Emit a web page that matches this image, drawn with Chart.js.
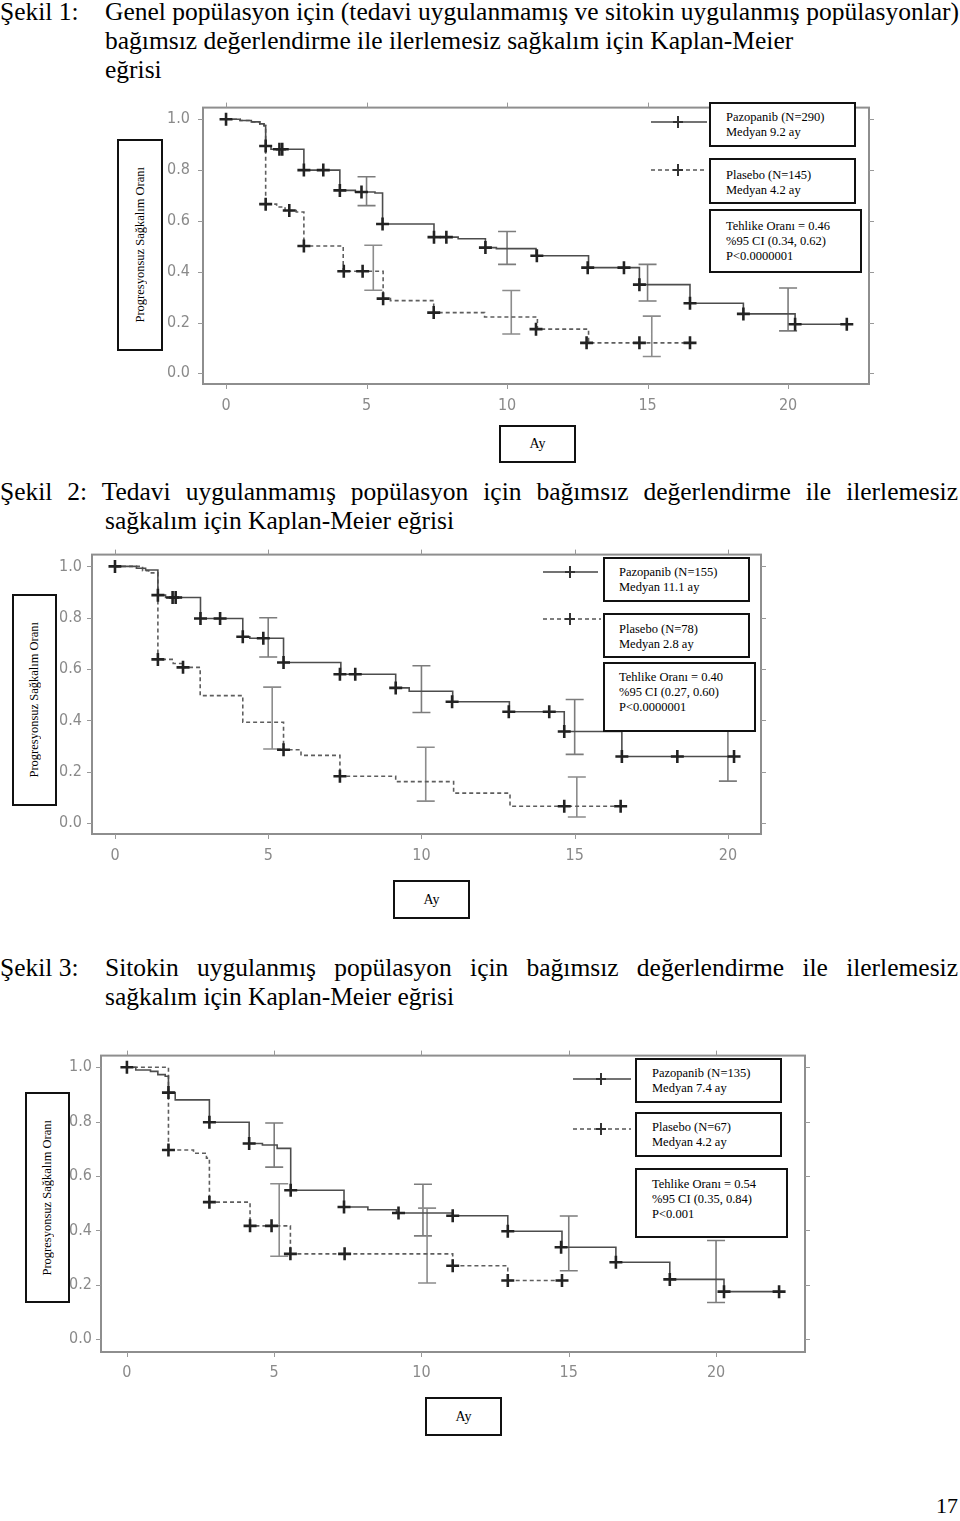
<!DOCTYPE html>
<html>
<head>
<meta charset="utf-8">
<script src="https://cdn.jsdelivr.net/npm/chart.js@4.4.1/dist/chart.umd.min.js"></script>
<style>
html, body { margin: 0; padding: 0; background: #fff; }
#page { position: relative; width: 960px; height: 1521px; overflow: hidden; font-family: "Liberation Serif", "Times New Roman", serif; color: #000; }
.cap { position: absolute; font-size: 25.5px; line-height: 29px; white-space: nowrap; }
.just { text-align: justify; text-align-last: justify; }
canvas { position: absolute; }
.box { position: absolute; box-sizing: border-box; border: 2px solid #111; background: #fff; font-size: 12.5px; line-height: 15px; padding: 6px 0 0 15px; z-index: 2; white-space: nowrap; }
.ylab { position: absolute; box-sizing: border-box; border: 2px solid #111; background: #fff; z-index: 2; display: flex; align-items: center; justify-content: center; }
.ylab span { writing-mode: vertical-rl; transform: rotate(180deg); font-size: 12.5px; white-space: nowrap; }
.xlab { position: absolute; box-sizing: border-box; border: 2px solid #111; background: #fff; display: flex; align-items: center; justify-content: center; font-size: 14px; }
svg.key { position: absolute; z-index: 1; overflow: visible; }
</style>
</head>
<body>
<div id="page">

  <!-- Şekil 1 -->
  <div class="cap" style="left:0;top:-3px">Şekil 1:</div>
  <div class="cap just" style="left:105px;top:-3px;width:853px">Genel popülasyon için (tedavi uygulanmamış ve sitokin uygulanmış popülasyonlar)</div>
  <div class="cap" style="left:105px;top:26px">bağımsız değerlendirme ile ilerlemesiz sağkalım için Kaplan-Meier</div>
  <div class="cap" style="left:105px;top:55px">eğrisi</div>

  <canvas id="fig1" width="740" height="340" style="left:150px;top:85px"></canvas>
  <div class="ylab" style="left:117px;top:139px;width:46px;height:212px"><span>Progresyonsuz Sağkalım Oranı</span></div>
  <svg class="key" style="left:651px;top:114px" width="58" height="16"><line x1="0" y1="8" x2="56" y2="8" stroke="#444" stroke-width="1.5"/><path d="M27 2V14M22 8H32" stroke="#333" stroke-width="2"/></svg>
  <svg class="key" style="left:651px;top:162px" width="58" height="16"><line x1="0" y1="8" x2="56" y2="8" stroke="#555" stroke-width="1.5" stroke-dasharray="4 3"/><path d="M27 2V14M22 8H32" stroke="#333" stroke-width="2"/></svg>
  <div class="box" style="left:709px;top:102px;width:147px;height:45px"><div>Pazopanib (N=290)</div><div>Medyan 9.2 ay</div></div>
  <div class="box" style="left:709px;top:158px;width:147px;height:46px;padding-top:8px"><div>Plasebo (N=145)</div><div>Medyan 4.2 ay</div></div>
  <div class="box" style="left:709px;top:209px;width:153px;height:64px;padding-top:8px"><div>Tehlike Oranı = 0.46</div><div>%95 CI (0.34, 0.62)</div><div>P&lt;0.0000001</div></div>
  <div class="xlab" style="left:499px;top:425px;width:77px;height:38px">Ay</div>

  <!-- Şekil 2 -->
  <div class="cap just" style="left:0;top:477px;width:958px">Şekil 2: Tedavi uygulanmamış popülasyon için bağımsız değerlendirme ile ilerlemesiz</div>
  <div class="cap" style="left:105px;top:506px">sağkalım için Kaplan-Meier eğrisi</div>

  <canvas id="fig2" width="745" height="340" style="left:40px;top:535px"></canvas>
  <div class="ylab" style="left:12px;top:594px;width:45px;height:212px"><span>Progresyonsuz Sağkalım Oranı</span></div>
  <svg class="key" style="left:543px;top:564px" width="58" height="16"><line x1="0" y1="8" x2="55" y2="8" stroke="#444" stroke-width="1.5"/><path d="M27 2V14M22 8H32" stroke="#333" stroke-width="2"/></svg>
  <svg class="key" style="left:543px;top:611px" width="58" height="16"><line x1="0" y1="8" x2="58" y2="8" stroke="#555" stroke-width="1.5" stroke-dasharray="4 3"/><path d="M27 2V14M22 8H32" stroke="#333" stroke-width="2"/></svg>
  <div class="box" style="left:603px;top:557px;width:147px;height:45px;padding-left:14px"><div>Pazopanib (N=155)</div><div>Medyan 11.1 ay</div></div>
  <div class="box" style="left:603px;top:613px;width:147px;height:45px;padding-left:14px;padding-top:7px"><div>Plasebo (N=78)</div><div>Medyan 2.8 ay</div></div>
  <div class="box" style="left:603px;top:662px;width:153px;height:70px;padding-left:14px;padding-top:6px"><div>Tehlike Oranı = 0.40</div><div>%95 CI (0.27, 0.60)</div><div>P&lt;0.0000001</div></div>
  <div class="xlab" style="left:393px;top:880px;width:77px;height:39px">Ay</div>

  <!-- Şekil 3 -->
  <div class="cap" style="left:0;top:953px">Şekil 3:</div>
  <div class="cap just" style="left:105px;top:953px;width:853px">Sitokin uygulanmış popülasyon için bağımsız değerlendirme ile ilerlemesiz</div>
  <div class="cap" style="left:105px;top:982px">sağkalım için Kaplan-Meier eğrisi</div>

  <canvas id="fig3" width="775" height="355" style="left:50px;top:1037px"></canvas>
  <div class="ylab" style="left:25px;top:1092px;width:45px;height:211px"><span>Progresyonsuz Sağkalım Oranı</span></div>
  <svg class="key" style="left:573px;top:1071px" width="60" height="16"><line x1="0" y1="8" x2="58" y2="8" stroke="#444" stroke-width="1.5"/><path d="M28 2V14M23 8H33" stroke="#333" stroke-width="2"/></svg>
  <svg class="key" style="left:573px;top:1121px" width="60" height="16"><line x1="0" y1="8" x2="58" y2="8" stroke="#555" stroke-width="1.5" stroke-dasharray="4 3"/><path d="M28 2V14M23 8H33" stroke="#333" stroke-width="2"/></svg>
  <div class="box" style="left:635px;top:1058px;width:147px;height:45px"><div>Pazopanib (N=135)</div><div>Medyan 7.4 ay</div></div>
  <div class="box" style="left:635px;top:1112px;width:147px;height:45px"><div>Plasebo (N=67)</div><div>Medyan 4.2 ay</div></div>
  <div class="box" style="left:635px;top:1168px;width:153px;height:70px;padding-top:7px"><div>Tehlike Oranı = 0.54</div><div>%95 CI (0.35, 0.84)</div><div>P&lt;0.001</div></div>
  <div class="xlab" style="left:425px;top:1397px;width:77px;height:39px">Ay</div>

  <div class="cap" style="right:2px;top:1491px;font-size:22px">17</div>
</div>

<script>
// tick labels
const xTickVals = [0, 5, 10, 15, 20];
const yTickVals = [0, 0.2, 0.4, 0.6, 0.8, 1.0];

// Şekil 1 - genel popülasyon
const fig1PazT = [0, 0.5, 0.9, 1.2, 1.35, 1.41, 1.6, 2.77, 4.05, 4.6, 5.3, 5.57, 7.4, 8.26, 9.23, 9.62, 11.03, 12.9, 14.71, 16.51, 18.41, 20.25, 22.09];
const fig1PazS = [1.0, 0.995, 0.99, 0.982, 0.975, 0.895, 0.882, 0.80, 0.72, 0.714, 0.71, 0.588, 0.536, 0.530, 0.495, 0.491, 0.463, 0.416, 0.349, 0.276, 0.234, 0.193, 0.193];
const fig1PazCensT = [0, 1.41, 1.9, 2.0, 2.77, 3.46, 4.05, 4.82, 5.57, 7.4, 7.84, 9.23, 11.06, 12.87, 14.16, 14.71, 16.51, 18.41, 20.25, 22.09];
const fig1PazCensS = [1.0, 0.895, 0.882, 0.882, 0.80, 0.80, 0.72, 0.714, 0.588, 0.536, 0.536, 0.495, 0.463, 0.416, 0.416, 0.349, 0.276, 0.234, 0.193, 0.193];
const fig1PazCiT = [5, 10, 15, 20];
const fig1PazCiLo = [0.66, 0.429, 0.285, 0.167];
const fig1PazCiHi = [0.774, 0.558, 0.429, 0.336];
const fig1PlaT = [0, 0.5, 0.9, 1.2, 1.35, 1.41, 1.8, 2.1, 2.5, 2.77, 4.17, 5.59, 5.85, 7.39, 9.2, 11.08, 12.9, 16.51];
const fig1PlaS = [1.0, 0.995, 0.99, 0.982, 0.975, 0.666, 0.655, 0.641, 0.635, 0.501, 0.402, 0.294, 0.286, 0.239, 0.222, 0.174, 0.12, 0.12];
const fig1PlaCensT = [1.41, 2.25, 2.77, 4.19, 4.86, 5.59, 7.39, 11.03, 12.83, 14.71, 16.51];
const fig1PlaCensS = [0.666, 0.641, 0.501, 0.402, 0.402, 0.294, 0.239, 0.174, 0.12, 0.12, 0.12];
const fig1PlaCiT = [5.24, 10.15, 15.15];
const fig1PlaCiLo = [0.327, 0.155, 0.066];
const fig1PlaCiHi = [0.504, 0.326, 0.225];

// Şekil 2 - tedavi uygulanmamış
const fig2PazT = [0, 0.7, 1.0, 1.4, 1.65, 2.79, 4.17, 4.4, 5.5, 7.37, 9.16, 9.6, 11.02, 12.87, 14.66, 16.54, 20.2];
const fig2PazS = [1.0, 0.993, 0.986, 0.888, 0.879, 0.797, 0.726, 0.72, 0.626, 0.58, 0.527, 0.514, 0.473, 0.434, 0.357, 0.26, 0.26];
const fig2PazCensT = [0, 1.4, 1.88, 1.98, 2.79, 3.43, 4.17, 4.84, 5.5, 7.34, 7.84, 9.16, 11.0, 12.85, 14.17, 14.66, 16.54, 18.35, 20.2];
const fig2PazCensS = [1.0, 0.888, 0.879, 0.879, 0.797, 0.797, 0.726, 0.72, 0.626, 0.58, 0.58, 0.527, 0.473, 0.434, 0.434, 0.357, 0.26, 0.26, 0.26];
const fig2PazCiT = [5, 10, 15, 20];
const fig2PazCiLo = [0.647, 0.431, 0.268, 0.164];
const fig2PazCiHi = [0.80, 0.613, 0.482, 0.40];
const fig2PlaT = [0, 0.9, 1.1, 1.4, 1.9, 2.2, 2.78, 4.17, 5.5, 6.07, 7.34, 9.16, 11.05, 12.89, 16.5];
const fig2PlaS = [1.0, 0.983, 0.975, 0.638, 0.622, 0.607, 0.497, 0.393, 0.286, 0.264, 0.183, 0.162, 0.117, 0.066, 0.066];
const fig2PlaCensT = [1.4, 2.22, 5.5, 7.34, 14.66, 16.5];
const fig2PlaCensS = [0.638, 0.607, 0.286, 0.183, 0.066, 0.066];
const fig2PlaCiT = [5.13, 10.14, 15.07];
const fig2PlaCiLo = [0.289, 0.086, 0.024];
const fig2PlaCiHi = [0.53, 0.296, 0.18];

// Şekil 3 - sitokin uygulanmış
const fig3PazT = [0, 0.3, 0.8, 1.05, 1.3, 1.41, 1.64, 2.8, 4.15, 4.6, 5.1, 5.56, 7.37, 8.18, 9.15, 11.06, 12.93, 14.77, 16.6, 18.43, 20.27, 22.14];
const fig3PazS = [1.0, 0.99, 0.985, 0.973, 0.967, 0.907, 0.88, 0.798, 0.72, 0.714, 0.702, 0.548, 0.486, 0.476, 0.464, 0.454, 0.397, 0.338, 0.283, 0.22, 0.175, 0.175];
const fig3PazCensT = [0, 1.41, 2.8, 4.15, 5.56, 7.37, 9.22, 11.06, 12.93, 14.74, 16.6, 18.43, 20.27, 22.14];
const fig3PazCensS = [1.0, 0.907, 0.798, 0.72, 0.548, 0.486, 0.464, 0.454, 0.397, 0.338, 0.283, 0.22, 0.175, 0.175];
const fig3PazCiT = [5, 10.05, 15, 20];
const fig3PazCiLo = [0.633, 0.38, 0.252, 0.135];
const fig3PazCiHi = [0.795, 0.57, 0.453, 0.363];
const fig3PlaT = [0, 1.41, 2.26, 2.7, 2.8, 4.18, 5.55, 11.06, 12.93, 14.77];
const fig3PlaS = [1.0, 0.696, 0.684, 0.666, 0.504, 0.417, 0.314, 0.27, 0.216, 0.216];
const fig3PlaCensT = [1.41, 2.8, 4.18, 4.91, 5.55, 7.39, 11.06, 12.93, 14.77];
const fig3PlaCensS = [0.696, 0.504, 0.417, 0.417, 0.314, 0.314, 0.27, 0.216, 0.216];
const fig3PlaCiT = [5.17, 10.19];
const fig3PlaCiLo = [0.305, 0.207];
const fig3PlaCiHi = [0.572, 0.482];

const tickFont = "'Liberation Sans Narrow', 'DejaVu Sans Condensed', 'Roboto Condensed', sans-serif";

function pts(t, s) {
    return t.map((v, i) => ({ x: v, y: s[i] }));
}

// frame, outward tick marks and confidence bars
function kmPlugin(ciSets) {
    return {
        id: 'km',
        beforeDatasetsDraw(chart) {
            const { ctx, chartArea: a, scales: { x, y } } = chart;
            ctx.save();
            ctx.strokeStyle = '#8e8e8e';
            ctx.lineWidth = 2;
            ctx.strokeRect(a.left, a.top, a.right - a.left, a.bottom - a.top);
            ctx.lineWidth = 1;
            ctx.strokeStyle = '#999';
            ctx.beginPath();
            x.ticks.forEach(t => {
                const px = Math.round(x.getPixelForValue(t.value)) + 0.5;
                ctx.moveTo(px, a.bottom); ctx.lineTo(px, a.bottom + 5);
                ctx.moveTo(px, a.top); ctx.lineTo(px, a.top - 5);
            });
            y.ticks.forEach(t => {
                const py = Math.round(y.getPixelForValue(t.value)) + 0.5;
                ctx.moveTo(a.left, py); ctx.lineTo(a.left - 5, py);
                ctx.moveTo(a.right, py); ctx.lineTo(a.right + 5, py);
            });
            ctx.stroke();
            // CI bars
            ciSets.forEach(set => {
                ctx.strokeStyle = set.color;
                ctx.lineWidth = 1.6;
                ctx.beginPath();
                set.t.forEach((t, i) => {
                    const px = x.getPixelForValue(t);
                    const lo = y.getPixelForValue(set.lo[i]);
                    const hi = y.getPixelForValue(set.hi[i]);
                    ctx.moveTo(px, lo); ctx.lineTo(px, hi);
                    ctx.moveTo(px - 9, lo); ctx.lineTo(px + 9, lo);
                    ctx.moveTo(px - 9, hi); ctx.lineTo(px + 9, hi);
                });
                ctx.stroke();
            });
            ctx.restore();
        }
    };
}

function drawKm(id, d, lay) {
    new Chart(document.getElementById(id).getContext('2d'), {
        type: 'line',
        data: {
            datasets: [
                { data: pts(d.pazCensT, d.pazCensS), showLine: false, pointStyle: 'cross', pointRadius: 6.5, pointBorderWidth: 2.6, pointBorderColor: '#222', order: 0 },
                { data: pts(d.plaCensT, d.plaCensS), showLine: false, pointStyle: 'cross', pointRadius: 6.5, pointBorderWidth: 2.6, pointBorderColor: '#222', order: 0 },
                { data: pts(d.pazT, d.pazS), stepped: true, borderColor: '#4d4d4d', borderWidth: 1.6, pointRadius: 0, fill: false, order: 1 },
                { data: pts(d.plaT, d.plaS), stepped: true, borderColor: '#5e5e5e', borderWidth: 1.6, borderDash: [4, 3], pointRadius: 0, fill: false, order: 2 }
            ]
        },
        options: {
            responsive: false,
            animation: false,
            events: [],
            layout: { padding: { top: 14, right: lay.padRight, left: 0, bottom: 0 } },
            plugins: { legend: { display: false }, tooltip: { enabled: false } },
            scales: {
                x: {
                    type: 'linear', min: lay.xMin, max: lay.xMax,
                    afterBuildTicks: s => { s.ticks = xTickVals.map(v => ({ value: v })); },
                    afterFit: s => { s.height = lay.xh; },
                    grid: { display: false, drawTicks: false },
                    border: { display: false },
                    ticks: { padding: lay.xPad, color: '#8a8a8a', font: { family: tickFont, size: 16 }, maxRotation: 0 }
                },
                y: {
                    type: 'linear', min: lay.yMin, max: lay.yMax,
                    afterBuildTicks: s => { s.ticks = yTickVals.map(v => ({ value: v })); },
                    afterFit: s => { s.width = lay.yw; },
                    grid: { display: false, drawTicks: false },
                    border: { display: false },
                    ticks: { padding: lay.yPad, color: '#8a8a8a', font: { family: tickFont, size: 16 }, callback: v => v.toFixed(1) }
                }
            }
        },
        plugins: [kmPlugin([
            { t: d.pazCiT, lo: d.pazCiLo, hi: d.pazCiHi, color: '#7c7c7c' },
            { t: d.plaCiT, lo: d.plaCiLo, hi: d.plaCiHi, color: '#8c8c8c' }
        ])]
    });
}

drawKm('fig1', {
    pazT: fig1PazT, pazS: fig1PazS, pazCensT: fig1PazCensT, pazCensS: fig1PazCensS,
    pazCiT: fig1PazCiT, pazCiLo: fig1PazCiLo, pazCiHi: fig1PazCiHi,
    plaT: fig1PlaT, plaS: fig1PlaS, plaCensT: fig1PlaCensT, plaCensS: fig1PlaCensS,
    plaCiT: fig1PlaCiT, plaCiLo: fig1PlaCiLo, plaCiHi: fig1PlaCiHi
}, { xMin: -0.82, xMax: 22.88, yMin: -0.042, yMax: 1.046, yw: 53, xh: 41, padRight: 21, xPad: 12, yPad: 13 });

drawKm('fig2', {
    pazT: fig2PazT, pazS: fig2PazS, pazCensT: fig2PazCensT, pazCensS: fig2PazCensS,
    pazCiT: fig2PazCiT, pazCiLo: fig2PazCiLo, pazCiHi: fig2PazCiHi,
    plaT: fig2PlaT, plaS: fig2PlaS, plaCensT: fig2PlaCensT, plaCensS: fig2PlaCensS,
    plaCiT: fig2PlaCiT, plaCiLo: fig2PlaCiLo, plaCiHi: fig2PlaCiHi
}, { xMin: -0.75, xMax: 21.08, yMin: -0.042, yMax: 1.046, yw: 52, xh: 41, padRight: 24, xPad: 12, yPad: 10 });

drawKm('fig3', {
    pazT: fig3PazT, pazS: fig3PazS, pazCensT: fig3PazCensT, pazCensS: fig3PazCensS,
    pazCiT: fig3PazCiT, pazCiLo: fig3PazCiLo, pazCiHi: fig3PazCiHi,
    plaT: fig3PlaT, plaS: fig3PlaS, plaCensT: fig3PlaCensT, plaCensS: fig3PlaCensS,
    plaCiT: fig3PlaCiT, plaCiLo: fig3PlaCiLo, plaCiHi: fig3PlaCiHi
}, { xMin: -0.88, xMax: 23.02, yMin: -0.047, yMax: 1.043, yw: 51, xh: 40, padRight: 20, xPad: 11, yPad: 9 });
</script>
</body>
</html>
